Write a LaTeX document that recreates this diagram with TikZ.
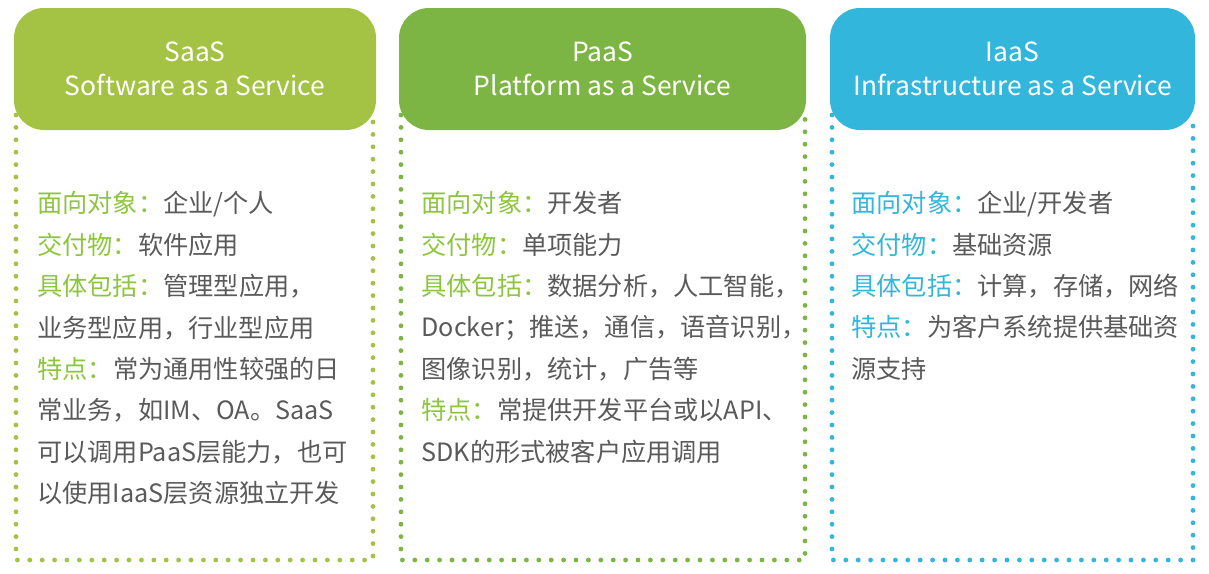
\documentclass[tikz,border=0pt]{standalone}
\usepackage{fontspec}
\setmainfont{Noto Sans CJK SC}
\usepackage{tikz}
\definecolor{saasgreen}{HTML}{A4C243}
\definecolor{paasgreen}{HTML}{7DB544}
\definecolor{iaasblue}{HTML}{33B6DC}
\definecolor{labelgreen}{HTML}{8CC63F}
\definecolor{bodygray}{HTML}{5A5A5A}
\tikzset{%
  HeadStyle/.style={fill=#1,text=white,rounded corners=15pt,minimum height=61pt,
    align=center,font=\fontsize{13.2}{17}\selectfont,inner sep=0pt},
  DotStyle/.style={draw=#1,line width=2.4pt,line cap=round,dash pattern=on 0pt off 6.2pt},
  BodyStyle/.style={anchor=north west,align=left,inner sep=0pt,text=bodygray,
    font=\fontsize{12.6}{20.7}\selectfont}
}

\begin{document}
\begin{tikzpicture}[x=0.5pt,y=-0.5pt]
\useasboundingbox (0,0) rectangle (1209,573);

% dotted frames
\draw [DotStyle=saasgreen] (16,115) -- (16,560) -- (373,560) -- (373,115);
\draw [DotStyle=paasgreen] (401,115) -- (401,560) -- (805,560) -- (805,115);
\draw [DotStyle=iaasblue] (832,115) -- (832,560) -- (1193,560) -- (1193,115);

% headers
\node (saas) [HeadStyle=saasgreen,minimum width=181pt] at (195,69) {SaaS\\Software as a Service};
\node (paas) [HeadStyle=paasgreen,minimum width=203.5pt] at (602.5,69) {PaaS\\Platform as a Service};
\node (iaas) [HeadStyle=iaasblue,minimum width=182.5pt] at (1012.5,69) {IaaS\\Infrastructure as a Service};

% texts
\node (saastext) [BodyStyle] at (37,191) {%
  \textcolor{labelgreen}{面向对象：}企业/个人\\
  \textcolor{labelgreen}{交付物：}软件应用\\
  \textcolor{labelgreen}{具体包括：}管理型应用，\\
  业务型应用，行业型应用\\
  \textcolor{labelgreen}{特点：}常为通用性较强的日\\
  常业务，如IM、OA。SaaS\\
  可以调用PaaS层能力，也可\\
  以使用IaaS层资源独立开发};
\node (paastext) [BodyStyle] at (421,191) {%
  \textcolor{labelgreen}{面向对象：}开发者\\
  \textcolor{labelgreen}{交付物：}单项能力\\
  \textcolor{labelgreen}{具体包括：}数据分析，人工智能，\\
  Docker；推送，通信，语音识别，\\
  图像识别，统计，广告等\\
  \textcolor{labelgreen}{特点：}常提供开发平台或以API、\\
  SDK的形式被客户应用调用};
\node (iaastext) [BodyStyle] at (851,191) {%
  \textcolor{iaasblue}{面向对象：}企业/开发者\\
  \textcolor{iaasblue}{交付物：}基础资源\\
  \textcolor{iaasblue}{具体包括：}计算，存储，网络\\
  \textcolor{iaasblue}{特点：}为客户系统提供基础资\\
  源支持};
\end{tikzpicture}
\end{document}
